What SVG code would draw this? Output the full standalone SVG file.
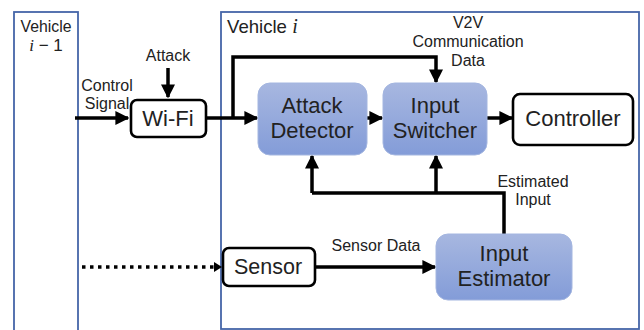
<svg xmlns="http://www.w3.org/2000/svg" width="644" height="330" viewBox="0 0 644 330">
<defs>
<linearGradient id="bg" x1="0" y1="0" x2="0" y2="1">
<stop offset="0" stop-color="#a7b7e0"/>
<stop offset="1" stop-color="#839cd8"/>
</linearGradient>
<marker id="ah" viewBox="0 0 10 10" refX="9" refY="5" markerWidth="4" markerHeight="4" orient="auto" markerUnits="strokeWidth">
<path d="M0,0 L10,5 L0,10 z" fill="#000"/>
</marker>
</defs>
<style>
text{font-family:"Liberation Sans",Arial,sans-serif;fill:#222;text-anchor:middle}
.veh{fill:none;stroke:#4565a8;stroke-width:1.8}
.wbox{fill:#fff;stroke:#000;stroke-width:2.6}
.bbox{fill:url(#bg);stroke:#a4b6e0;stroke-width:1}
.ln{fill:none;stroke:#000;stroke-width:3.5}
.arr{marker-end:url(#ah)}
.lbl{font-size:16px}
.big{font-size:22px}
.math{font-family:"Liberation Serif","DejaVu Serif",serif;font-style:italic}
</style>
<rect width="644" height="330" fill="#fff"/>
<g id="vehicle-prev">
<rect class="veh" x="14" y="12" width="64" height="330"/>
<text x="46" y="32" style="font-size:15.8px">Vehicle</text>
<text x="46" y="51" style="font-size:17px"><tspan class="math">i</tspan> − 1</text>
</g>
<g id="vehicle-i">
<rect class="veh" x="221" y="12" width="418" height="317"/>
<text x="227" y="33" style="font-size:18.6px;text-anchor:start">Vehicle <tspan class="math" style="font-size:20px">i</tspan></text>
</g>
<g id="connectors">
<path class="ln arr" d="M75,118 H128"/>
<path class="ln arr" d="M168,68 V97"/>
<path class="ln arr" d="M206,118 H257"/>
<path class="ln arr" d="M233,118 V57 H436 V82"/>
<path class="ln arr" d="M367,118 H382"/>
<path class="ln arr" d="M487,118 H512"/>
<path class="ln" d="M504,234 V193 H312"/>
<path class="ln arr" d="M312,193 V156"/>
<path class="ln arr" d="M436,193 V156"/>
<path class="ln arr" d="M315,267 H435"/>
<path d="M82,267 H215" fill="none" stroke="#000" stroke-width="3.5" stroke-dasharray="3.5 4.5"/>
<path d="M214,262 L222,267 L214,272 z" fill="#000"/>
</g>
<g id="labels">
<text class="lbl" x="107" y="91">Control</text>
<text class="lbl" x="107" y="109">Signal</text>
<text class="lbl" x="168" y="61">Attack</text>
<text class="lbl" x="468" y="28">V2V</text>
<text class="lbl" x="468" y="47">Communication</text>
<text class="lbl" x="468" y="66">Data</text>
<text class="lbl" x="533" y="187">Estimated</text>
<text class="lbl" x="533" y="205">Input</text>
<text class="lbl" x="376" y="251">Sensor Data</text>
</g>
<g id="wifi">
<rect class="wbox" x="131" y="100" width="75" height="37" rx="6"/>
<text class="big" x="168" y="126">Wi-Fi</text>
</g>
<g id="attack-detector">
<rect class="bbox" x="258" y="83" width="109" height="72" rx="12"/>
<text class="big" x="312" y="113">Attack</text>
<text class="big" x="312" y="138">Detector</text>
</g>
<g id="input-switcher">
<rect class="bbox" x="383" y="83" width="104" height="72" rx="12"/>
<text class="big" x="435" y="113">Input</text>
<text class="big" x="435" y="138">Switcher</text>
</g>
<g id="controller">
<rect class="wbox" x="513" y="94" width="120" height="51" rx="7"/>
<text class="big" x="573" y="126">Controller</text>
</g>
<g id="sensor">
<rect class="wbox" x="223" y="248" width="92" height="38" rx="6"/>
<text x="268" y="274" style="font-size:21.5px">Sensor</text>
</g>
<g id="input-estimator">
<rect class="bbox" x="436" y="234" width="136" height="66" rx="12"/>
<text class="big" x="504" y="261">Input</text>
<text class="big" x="504" y="286">Estimator</text>
</g>
</svg>
